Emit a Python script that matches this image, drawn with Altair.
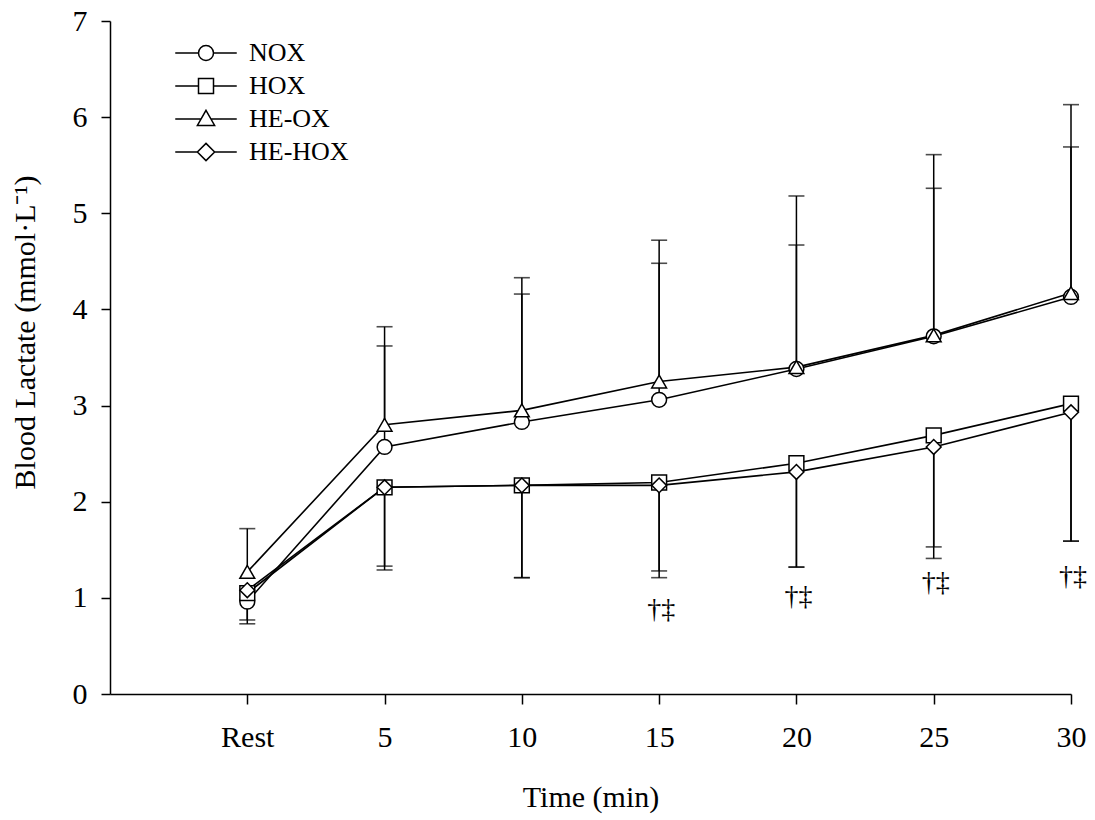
import altair as alt
import pandas as pd

# ---- data ----
times = [0, 5, 10, 15, 20, 25, 30]
tick_labels = ["Rest", "5", "10", "15", "20", "25", "30"]
y_ticks = [0, 1, 2, 3, 4, 5, 6, 7]
series = ["NOX", "HOX", "HE-OX", "HE-HOX"]

nox = [0.96, 2.57, 2.83, 3.06, 3.38, 3.72, 4.13]
hox = [1.05, 2.15, 2.17, 2.20, 2.40, 2.69, 3.02]
heox = [1.27, 2.80, 2.95, 3.25, 3.40, 3.73, 4.17]
hehox = [1.08, 2.15, 2.17, 2.17, 2.31, 2.57, 2.93]

# error bar end points (upper for NOX / HE-OX, lower for HOX / HE-HOX)
nox_err = [None, 3.62, 4.16, 4.48, 4.67, 5.26, 5.69]
heox_err = [1.72, 3.82, 4.33, 4.72, 5.18, 5.61, 6.13]
hox_err = [0.73, 1.29, 1.21, 1.21, 1.32, 1.41, 1.59]
hehox_err = [0.77, 1.33, 1.21, 1.28, 1.32, 1.53, 1.59]

sig_times = [15, 20, 25, 30]
sig_y = [0.87, 1.01, 1.15, 1.22]
sig_text = ["†‡", "†‡", "†‡", "†‡"]

means = {"NOX": nox, "HOX": hox, "HE-OX": heox, "HE-HOX": hehox}
errs = {"NOX": nox_err, "HOX": hox_err, "HE-OX": heox_err, "HE-HOX": hehox_err}

rows = []
for s in series:
    for i, t in enumerate(times):
        rows.append({"time": t, "series": s, "mean": means[s][i], "err": errs[s][i]})
df = pd.DataFrame(rows)
sig_df = pd.DataFrame({"time": sig_times, "y": sig_y, "txt": sig_text})

FONT = "Liberation Serif"

label_expr = " : ".join(
    [f"datum.value == {t} ? '{l}'" for t, l in zip(times, tick_labels)]
) + " : datum.label"

xscale = alt.Scale(domain=[-5, 30], nice=False, zero=False)
yscale = alt.Scale(domain=[0, 7], nice=False, zero=True)

x_enc = alt.X(
    "time:Q",
    scale=xscale,
    axis=alt.Axis(
        values=times,
        labelExpr=label_expr,
        title="Time (min)",
        grid=False,
        tickSize=10,
        labelPadding=18,
        labelFlush=False,
        labelOverlap=False,
        titlePadding=30,
    ),
)
y_enc = alt.Y(
    "mean:Q",
    scale=yscale,
    axis=alt.Axis(
        values=y_ticks,
        format="d",
        title="Blood Lactate (mmol·L⁻¹)",
        grid=False,
        tickSize=9,
        labelPadding=14,
        labelFlush=False,
        titleX=-70,
        titleY=311,
    ),
)

base = alt.Chart(df)

rules = base.mark_rule(color="black", strokeWidth=1.5).encode(
    x=x_enc, y=y_enc, y2="err:Q"
).transform_filter("isValid(datum.err)")

caps = base.mark_tick(orient="horizontal", size=16, thickness=1.6, color="black").encode(
    x=x_enc, y=alt.Y("err:Q", scale=yscale)
).transform_filter("isValid(datum.err)")

lines = base.mark_line(color="black", strokeWidth=1.6).encode(
    x=x_enc, y=y_enc, detail="series:N"
)

shape_range = ["circle", "square", "triangle-up", "diamond"]
points = base.mark_point(
    filled=True, fill="white", stroke="black", strokeWidth=1.5, size=220, opacity=1
).encode(
    x=x_enc,
    y=y_enc,
    shape=alt.Shape("series:N", scale=alt.Scale(domain=series, range=shape_range), legend=None),
)

legend_paths = [
    "M-4.1,0H-1M1,0H4.1M1,0A1,1 0 1,1 -1,0A1,1 0 1,1 1,0Z",
    "M-4.1,0H-1M1,0H4.1M-1,-1H1V1H-1Z",
    "M-4.1,0H-0.64M0.64,0H4.1M0,-1.15L1.15,0.85H-1.15Z",
    "M-4.1,0H-1.15M1.15,0H4.1M0,-1.15L1.15,0L0,1.15L-1.15,0Z",
]
legend_layer = base.mark_point(
    filled=False, stroke="black", color="black", strokeWidth=1.5, opacity=1
).encode(
    x=x_enc,
    y=y_enc,
    shape=alt.Shape(
        "series:N",
        scale=alt.Scale(domain=series, range=legend_paths),
        legend=alt.Legend(
            title=None,
            orient="none",
            legendX=83,
            legendY=19,
            symbolSize=225,
            symbolStrokeColor="black",
            symbolStrokeWidth=1.5,
            symbolOpacity=1,
            labelFont=FONT,
            labelFontSize=26,
            labelColor="black",
            labelOffset=30,
            rowPadding=7,
            padding=0,
        ),
    ),
).transform_filter("false")

sig = alt.Chart(sig_df).mark_text(
    font=FONT, fontSize=28, color="black", baseline="middle", align="center", dx=2
).encode(
    x=alt.X("time:Q", scale=xscale),
    y=alt.Y("y:Q", scale=yscale),
    text="txt:N",
)

chart = (
    alt.layer(rules, caps, lines, points, legend_layer, sig)
    .resolve_scale(shape="independent")
    .properties(
        width=961,
        height=673,
        autosize=alt.AutoSizeParams(type="none"),
        padding={"left": 110, "top": 21, "right": 24, "bottom": 126},
        background="white",
    )
    .configure_view(stroke=None)
    .configure_axis(
        labelFont=FONT,
        titleFont=FONT,
        labelFontSize=30,
        titleFontSize=30,
        titleFontWeight="normal",
        labelColor="black",
        titleColor="black",
        domainColor="black",
        tickColor="black",
        domainWidth=1.5,
        tickWidth=1.5,
    )
)

chart.save("out.html", embed_options={"renderer": "svg", "actions": False})
